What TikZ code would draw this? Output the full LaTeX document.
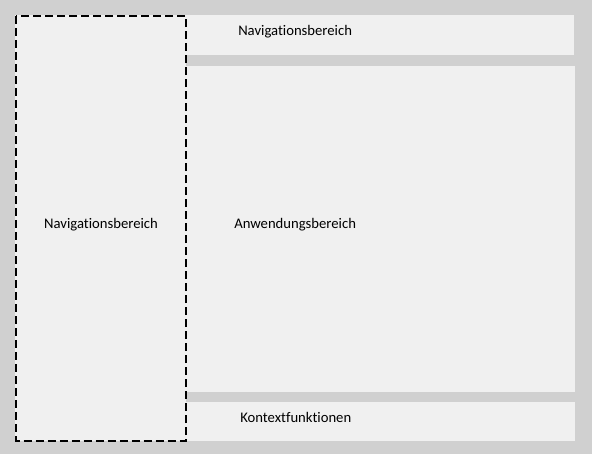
\documentclass[tikz,border=0pt]{standalone}
\usepackage{fontspec}
\setmainfont{Carlito}[Ligatures=NoCommon]
\definecolor{bggray}{HTML}{D0D0D0}
\definecolor{panel}{HTML}{F0F0F0}
\begin{document}
\begin{tikzpicture}[x=0.75pt,y=-0.75pt,
  panelbox/.style={fill=panel,draw=none},
  navdash/.style={draw=black,line width=1.5pt,dash pattern=on 6pt off 3pt},
  lbl/.style={font=\fontsize{11pt}{13pt}\selectfont,text=black,inner sep=0pt}]
\useasboundingbox (0,0) rectangle (592,454);
\fill[bggray] (0,0) rectangle (592,454);
\fill[panelbox] (186,15) rectangle (574,55);
\fill[panelbox] (186,66) rectangle (575,392);
\fill[panelbox] (186,402) rectangle (575,441);
\fill[panelbox] (15,15) rectangle (186,441);
\draw[navdash] (16,16) rectangle (186,440.5);
\node[lbl,anchor=base west] (top) at (238,35) {Navigationsbereich};
\node[lbl,anchor=base] (left) at (101,228) {Navigationsbereich};
\node[lbl,anchor=base west] (main) at (234,228) {Anwendungsbereich};
\node[lbl,anchor=base west] (ctx) at (240,422.5) {Kontextfunktionen};
\end{tikzpicture}
\end{document}
